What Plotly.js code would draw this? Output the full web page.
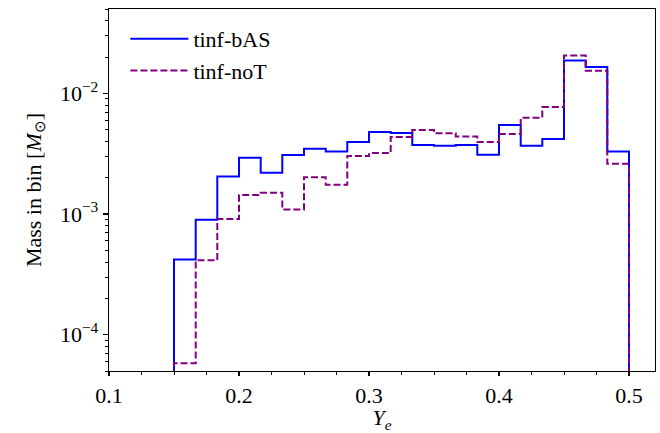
<!DOCTYPE html>
<html>
<head>
<meta charset="utf-8">
<script src="https://cdn.plot.ly/plotly-3.0.1.min.js"></script>
<style>body{margin:0;padding:0;background:#fff}#chart{width:660px;height:433px}</style>
</head>
<body>
<div id="chart"></div>
<script>
// Bin edges in Y_e (width 1/60)
var binEdges = [0.15, 0.1667, 0.1833, 0.2, 0.2167, 0.2333, 0.25, 0.2667, 0.2833, 0.3, 0.3167,
                0.3333, 0.35, 0.3667, 0.3833, 0.4, 0.4167, 0.4333, 0.45, 0.4667, 0.4833, 0.5];
// Mass in each bin [M_sun]
var massBAS = [4.2e-4, 8.96e-4, 2.05e-3, 2.93e-3, 2.2e-3, 3.08e-3, 3.48e-3, 3.30e-3, 3.95e-3, 4.79e-3,
               4.70e-3, 3.73e-3, 3.68e-3, 3.73e-3, 3.10e-3, 5.47e-3, 3.68e-3, 4.18e-3, 1.87e-2, 1.65e-2, 3.3e-3];
var massNoT = [5.8e-5, 4.14e-4, 9.08e-4, 1.44e-3, 1.50e-3, 1.09e-3, 2.02e-3, 1.75e-3, 3.02e-3, 3.20e-3,
               4.35e-3, 4.97e-3, 4.67e-3, 4.39e-3, 3.95e-3, 4.60e-3, 6.27e-3, 7.69e-3, 2.06e-2, 1.54e-2, 2.61e-3];
var seriesNames = ["tinf-bAS", "tinf-noT"];

function stepXY(edges, vals) {
  var floorVal = 1e-7;
  var x = [edges[0]], y = [floorVal];
  for (var i = 0; i < vals.length; i++) { x.push(edges[i]); y.push(vals[i]); }
  x.push(edges[edges.length - 1]); y.push(vals[vals.length - 1]);
  x.push(edges[edges.length - 1]); y.push(floorVal);
  return {x: x, y: y};
}

var s1 = stepXY(binEdges, massBAS);
var s2 = stepXY(binEdges, massNoT);

var font = {family: "Liberation Serif, Times New Roman, serif", size: 22, color: "#000"};

var traces = [
  {x: s1.x, y: s1.y, mode: "lines", line: {shape: "hv", color: "#0000ff", width: 2}, name: seriesNames[0], legendgroup: "a"},
  {x: s2.x, y: s2.y, mode: "lines", line: {shape: "hv", color: "#800080", width: 2, dash: "7px,3px"}, name: seriesNames[1], legendgroup: "b"}
];

var layout = {
  width: 660, height: 433,
  margin: {l: 109, r: 5, t: 9, b: 62},
  paper_bgcolor: "#fff", plot_bgcolor: "#fff",
  font: font,
  showlegend: true,
  legend: {x: 0.03, y: 0.975, xanchor: "left", yanchor: "top", bgcolor: "rgba(0,0,0,0)", font: font,
           tracegroupgap: 0, itemwidth: 58},
  xaxis: {
    range: [0.1, 0.52], tickvals: [0.1, 0.2, 0.3, 0.4, 0.5], ticktext: ["0.1", "0.2", "0.3", "0.4", "0.5"],
    ticks: "outside", ticklen: 4, tickwidth: 1.2, tickcolor: "#000",
    showline: true, linecolor: "#000", linewidth: 1.3, mirror: true,
    showgrid: false, zeroline: false,
    minor: {dtick: 0.025, tick0: 0.1, ticks: "outside", ticklen: 2.5, tickwidth: 1, tickcolor: "#000", showgrid: false},
    title: {text: "<i>Y<sub>e</sub></i>", font: font, standoff: 7}
  },
  yaxis: {
    type: "log", range: [Math.log10(5e-5), Math.log10(5e-2)],
    tickvals: [1e-4, 1e-3, 1e-2], ticktext: ["10<sup>−4</sup>", "10<sup>−3</sup>", "10<sup>−2</sup>"],
    ticks: "outside", ticklen: 5, tickwidth: 1.2, tickcolor: "#000",
    showline: true, linecolor: "#000", linewidth: 1.3, mirror: true,
    showgrid: false, zeroline: false,
    minor: {dtick: "D1", ticks: "outside", ticklen: 3, tickwidth: 1, tickcolor: "#000", showgrid: false},
    title: {text: "Mass in bin [<i>M</i><sub>⊙</sub>]", font: font, standoff: 12}
  }
};

Plotly.newPlot("chart", traces, layout, {displayModeBar: false, staticPlot: true});
</script>
</body>
</html>
